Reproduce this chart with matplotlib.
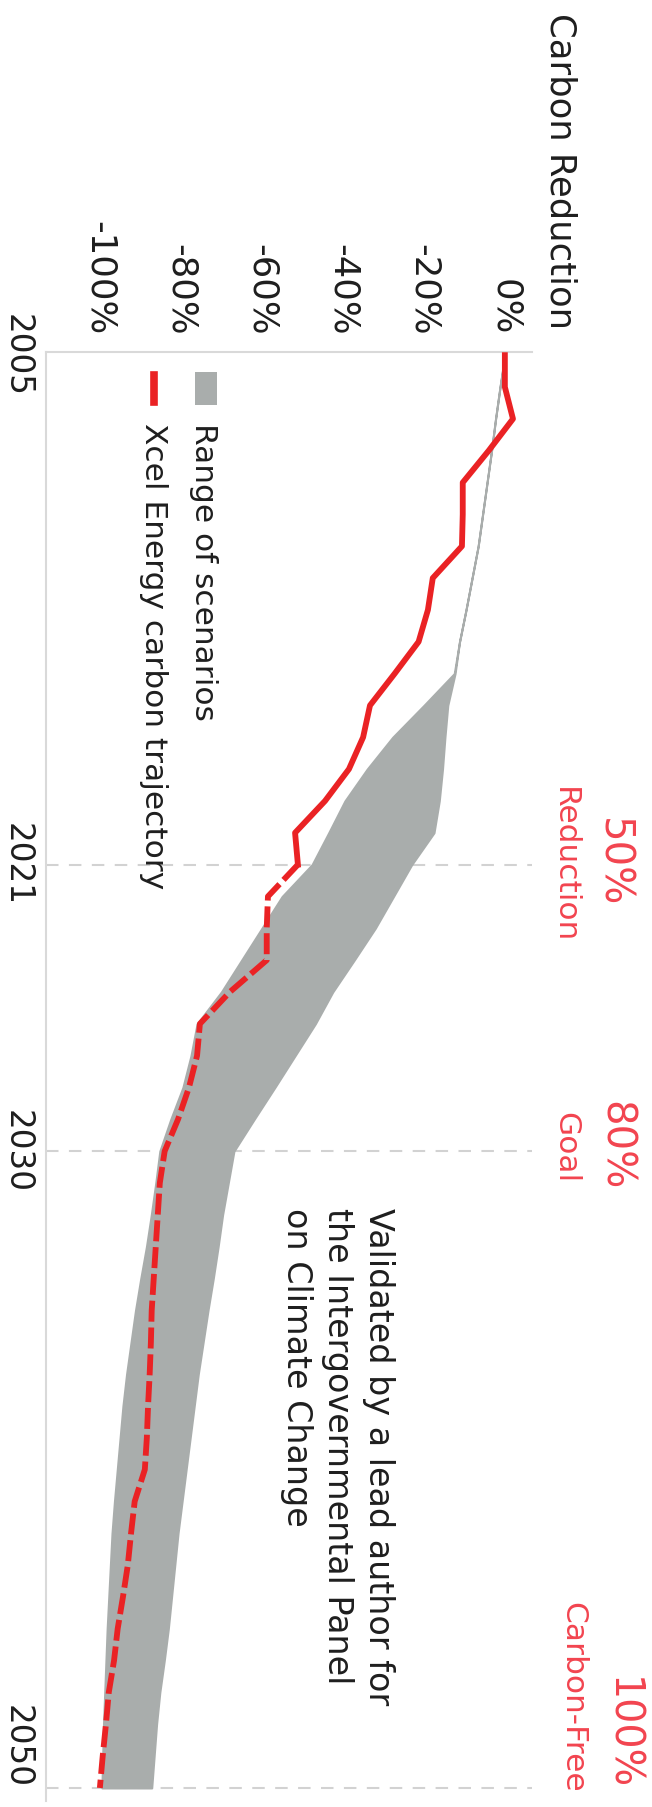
import matplotlib.pyplot as plt
from matplotlib.patches import Rectangle
from matplotlib.lines import Line2D

plt.rcParams['font.family'] = ['DejaVu Sans']

# Carbon reduction vs 2005, percent (negative = reduction)
years = list(range(2005, 2051))
xcel = [0, 0, 2.0, -4.0, -10.4, -10.4, -10.6, -17.8, -19.0, -21.3, -27.2, -33.3,
        -35.0, -38.5, -44.4, -51.8, -51.1,
        -58.5, -58.8, -58.8, -67.9, -75.3, -76.0, -78.0, -80.7, -84.0,
        -85.2, -85.7, -86.2, -86.7, -87.2, -87.4, -87.7, -88.1, -88.4, -88.9,
        -91.4, -92.3, -93.1, -94.3, -95.6, -96.5, -97.8, -98.5, -99.3, -100.0]
scen_high = [0, -1.2, -2.3, -3.3, -4.4, -5.5, -6.6, -8.1, -9.6, -11.2, -12.3,
             -14.1, -14.8, -15.4, -16.2, -17.5, -23.0, -27.5, -32.0, -37.2, -42.5,
             -46.8, -51.8, -56.8, -61.9, -66.9,
             -68.3, -69.7, -70.8, -72.0, -73.3, -74.5, -75.7, -76.7, -77.7, -78.7,
             -79.7, -80.7, -81.5, -82.3, -83.1, -84.1, -85.2, -86.0, -86.6, -87.2]
scen_low = [0, -1.2, -2.3, -3.3, -4.4, -5.5, -6.6, -8.1, -9.6, -11.2, -12.5,
            -20.0, -27.7, -34.0, -39.5, -43.5, -47.6, -55.0, -60.0, -65.0, -70.0,
            -76.0, -77.5, -79.5, -82.5, -85.2,
            -86.2, -87.3, -88.5, -89.9, -91.2, -92.3, -93.4, -94.3, -95.0, -95.7,
            -96.4, -97.0, -97.4, -97.8, -98.2, -98.5, -98.8, -99.1, -99.3, -99.5]
actual_end = 2021  # solid up to here, planned (dashed) after

pct_ticks = [0, -20, -40, -60, -80, -100]
year_ticks = [2005, 2021, 2030, 2050]
milestone_years = [2021, 2030, 2050]
milestone_pct = ['50%', '80%', '100%']
milestone_text = ['Reduction', 'Goal', 'Carbon-Free']

red = '#ea2224'
band = '#a9adac'
ann = '#f2444f'
ink = '#1e1e1e'

W, H = 652, 1807
fig = plt.figure(figsize=(W / 100, H / 100), dpi=100)


def fx(px):
    return px / W


def fy(py):
    return 1 - py / H


# chart is laid out sideways: years run down, percent runs across
ax = fig.add_axes([fx(46), fy(1801), fx(532) - fx(46), fy(352) - fy(1801)])
ax.set_xlim(-113.3, 6.7)
ax.set_ylim(2050.41, 2004.9)

for yr in milestone_years:
    ax.axhline(yr, color='#d2d2d2', lw=1.5, dashes=(6, 5), zorder=1)

ax.fill_betweenx(years, scen_low, scen_high, facecolor=band, edgecolor=band,
                 lw=1.5, zorder=2)

k = years.index(actual_end)
ax.plot(xcel[:k + 1], years[:k + 1], color=red, lw=4.2, zorder=3)
ax.plot(xcel[k:], years[k:], color=red, lw=4.2, dashes=(3.6, 1.0), zorder=3)

for side in ['right', 'bottom']:
    ax.spines[side].set_visible(False)
for side in ['top', 'left']:
    ax.spines[side].set_color('#d9d9d9')
    ax.spines[side].set_linewidth(1.5)

ax.xaxis.tick_top()
ax.set_xticks(pct_ticks)
ax.set_xticklabels([f'{v}%' for v in pct_ticks], rotation=-90, va='bottom',
                   ha='center', fontsize=25.5, color=ink)
ax.tick_params(axis='x', length=0, pad=12)

ax.set_yticks(year_ticks)
ax.set_yticklabels([str(y) for y in year_ticks], rotation=-90, va='center',
                   fontsize=23.5, color=ink)
ax.tick_params(axis='y', length=0, pad=9)
ax.get_yticklabels()[-1].set_va('bottom')

fig.text(fx(560), fy(13), 'Carbon Reduction', rotation=-90, ha='center',
         va='top', fontsize=25.5, color=ink)

# legend, drawn by hand so it reads sideways like the rest
fig.add_artist(Rectangle((fx(195), fy(405)), fx(22), 33 / H,
                         transform=fig.transFigure, facecolor=band, edgecolor='none'))
fig.add_artist(Line2D([fx(154), fx(154)], [fy(375), fy(402)],
                      transform=fig.transFigure, color=red, lw=5.5))
fig.text(fx(203), fy(423), 'Range of scenarios', rotation=-90, ha='center',
         va='top', fontsize=22.5, color=ink)
fig.text(fx(153), fy(423), 'Xcel Energy carbon trajectory', rotation=-90,
         ha='center', va='top', fontsize=22.5, color=ink)

# milestone callouts
big_x = [612, 615, 621]
small_x = [564, 566, 573]
centers = [863, 1146]
for i in range(2):
    fig.text(fx(big_x[i]), fy(centers[i]), milestone_pct[i], rotation=-90,
             ha='center', va='center', fontsize=29, color=ann)
    fig.text(fx(small_x[i]), fy(centers[i] + 2), milestone_text[i], rotation=-90,
             ha='center', va='center', fontsize=22.5, color=ann)
fig.text(fx(big_x[2]), fy(1790), milestone_pct[2], rotation=-90, ha='center',
         va='bottom', fontsize=28.5, color=ann)
fig.text(fx(small_x[2]), fy(1793), milestone_text[2], rotation=-90, ha='center',
         va='bottom', fontsize=22.5, color=ann)

note = ['Validated by a lead author for', 'the Intergovernmental Panel',
        'on Climate Change']
for line, px in zip(note, [378, 337, 296]):
    fig.text(fx(px), fy(1208), line, rotation=-90, ha='center', va='top',
             fontsize=24, color=ink)

fig.savefig('out.png', dpi=100, facecolor='white')
